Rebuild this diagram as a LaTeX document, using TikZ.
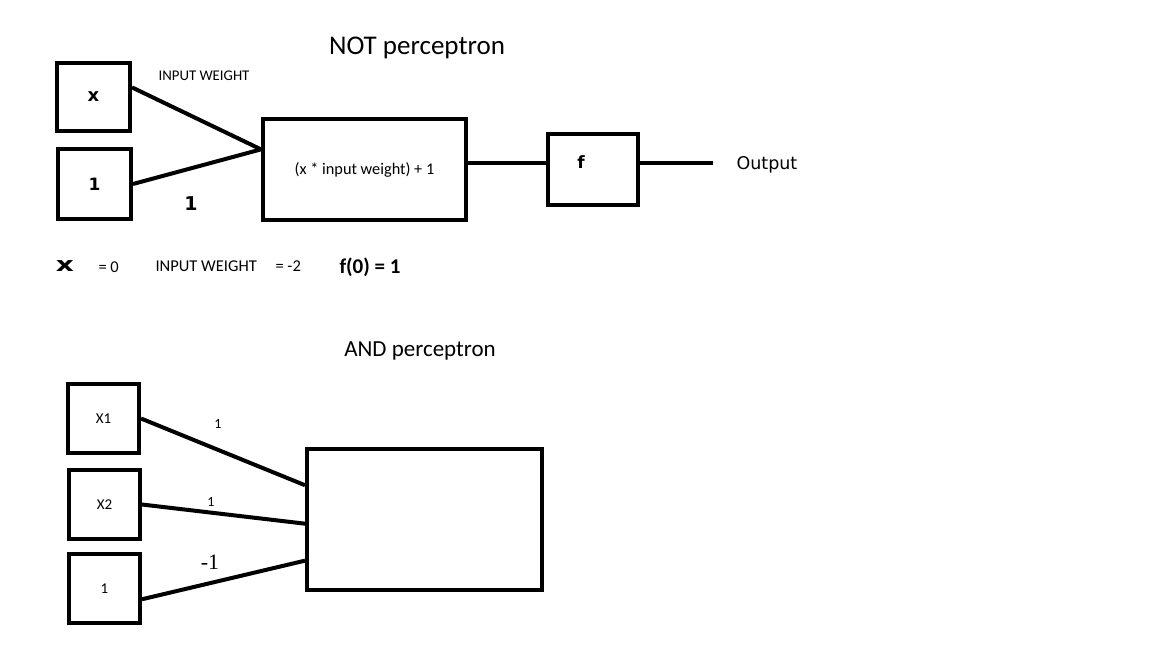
\documentclass[tikz,border=0pt]{standalone}
\usepackage{fontspec}
\setmainfont{Carlito}
\newfontfamily\verd{DejaVu Sans}
\newfontfamily\tnr{Liberation Serif}
\usepackage{tikz}
\usetikzlibrary{positioning}

\begin{document}
\begin{tikzpicture}[
    x=1pt, y=-1pt,
    inbox/.style={rectangle, draw=black, line width=4pt, inner sep=0pt, minimum width=72pt, minimum height=69pt},
    gatebox/.style={rectangle, draw=black, line width=4pt, inner sep=0pt},
    wire/.style={draw=black, line width=4pt},
    title/.style={font=\fontsize{27}{30}\selectfont},
    small/.style={font=\fontsize{14}{16}\selectfont},
    mid/.style={font=\fontsize{16.5}{18}\selectfont},
]
\useasboundingbox (0,0) rectangle (1152,648);

% NOT perceptron
\node[title] (nottitle) at (417,48) {NOT perceptron};
\node[inbox, minimum width=73pt, minimum height=68pt, font=\verd\bfseries\fontsize{18}{20}\selectfont] (xin) at (93.5,97) {x};
\node[inbox, minimum width=73pt, minimum height=70pt, font=\verd\bfseries\fontsize{17}{19}\selectfont] (biasin) at (94.5,184) {1};
\node[gatebox, minimum width=203pt, minimum height=101pt, font=\fontsize{16.3}{18}\selectfont] (sum) at (364.5,169.5) {(x * input weight) + 1};
\node[gatebox, minimum width=90pt, minimum height=71pt] (act) at (593,169.5) {};
\node[font=\verd\bfseries\fontsize{17}{19}\selectfont] (actlabel) at (581,162) {f};
\coordinate (outend) at (713,163);
\node[font=\verd\fontsize{17.5}{19}\selectfont, anchor=west] (output) at (733,165) {Output};

\draw[wire] (xin.14) -- (sum.169);
\draw[wire] (biasin.east) -- (sum.169);
\draw[wire] (sum.east |- outend) -- (act.west |- outend);
\draw[wire] (act.east |- outend) -- (outend);

\node[font=\fontsize{14.8}{16}\selectfont] (wlabel) at (204,76) {INPUT WEIGHT};
\node[font=\verd\bfseries\fontsize{19}{21}\selectfont] (blabel) at (191,204) {1};

% values
\node[font=\verd\bfseries\fontsize{20}{22}\selectfont] (xval) at (65,266) {\scalebox{1.4}[1]{x}};
\node[mid, anchor=west] (xeq) at (95,267) {= 0};
\node[mid, anchor=west] (wval) at (152,266) {INPUT WEIGHT};
\node[mid, anchor=west] (weq) at (272,266) {= -2};
\node[font=\bfseries\fontsize{21}{23}\selectfont, anchor=west] (fval) at (336,267) {f(0) = 1};

% AND perceptron
\node[title, font=\fontsize{23}{26}\selectfont] (andtitle) at (420,351) {AND perceptron};
\node[inbox, minimum width=71pt, minimum height=69pt, font=\fontsize{15}{17}\selectfont] (xone) at (103.5,418.5) {X1};
\node[inbox, minimum width=71pt, minimum height=69pt, font=\fontsize{15}{17}\selectfont] (xtwo) at (104.5,504.5) {X2};
\node[inbox, minimum width=71pt, minimum height=69pt, font=\fontsize{15}{17}\selectfont] (andbias) at (104.5,588.5) {1};
\node[gatebox, minimum width=235pt, minimum height=141pt] (gate) at (424.5,519.5) {};

\draw[wire] (xone.east) -- (gate.164.5);
\draw[wire] (xtwo.east) -- (gate.-178);
\draw[wire] (andbias.-16) -- (gate.-161.4);

\node[small] (wone) at (218,424) {1};
\node[small] (wtwo) at (211,502) {1};
\node[font=\tnr\fontsize{22}{24}\selectfont] (wthree) at (210,562) {-1};
\end{tikzpicture}
\end{document}
